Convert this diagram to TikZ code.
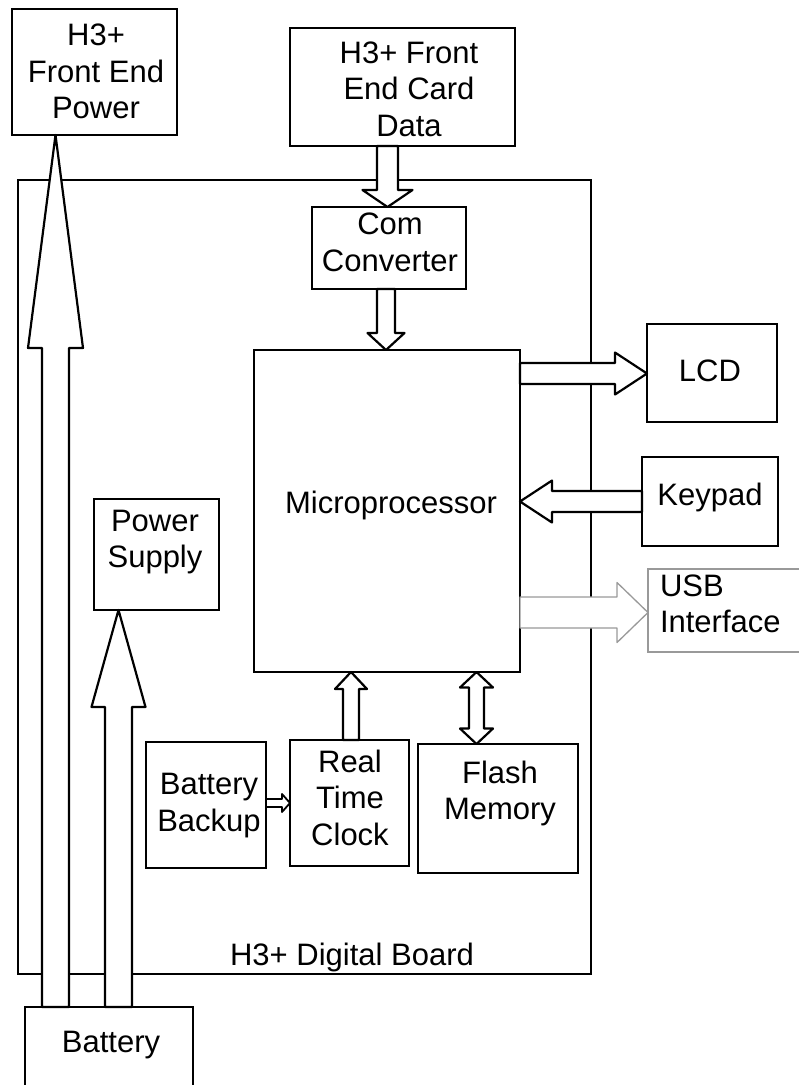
\documentclass[tikz,border=0pt]{standalone}
\usepackage{fontspec}
\setmainfont{Liberation Sans}
\usetikzlibrary{calc}
\newcommand{\dgfont}{\fontsize{31}{36.5}\selectfont}
\definecolor{usbgray}{gray}{0.6}
\tikzset{
  box/.style={draw, line width=2.4pt, inner sep=0pt, outer sep=0pt},
  txt/.style={inner sep=0pt, outer sep=0pt, align=center, font=\dgfont},
  blk/.style={draw, fill=white, line width=2.2pt, line join=round},
}
% single hollow block arrow: tail, tip, shaft half width, head half width, head length
\newcommand{\blkarrow}[6][]{%
  \coordinate (hb) at ($(#3)!#6pt!(#2)$);
  \draw[blk,#1] ($(#2)!#4pt!90:(#3)$) -- ($(hb)!#4pt!-90:(#2)$) -- ($(hb)!#5pt!-90:(#2)$) -- (#3)
     -- ($(hb)!#5pt!90:(#2)$) -- ($(hb)!#4pt!90:(#2)$) -- ($(#2)!#4pt!-90:(#3)$) -- cycle;
}
% double hollow block arrow: tip1, tip2, shaft half width, head half width, head length
\newcommand{\dblarrow}[6][]{%
  \coordinate (hba) at ($(#2)!#6pt!(#3)$);
  \coordinate (hbb) at ($(#3)!#6pt!(#2)$);
  \draw[blk,#1] ($(hba)!#4pt!90:(#3)$) -- ($(hba)!#5pt!90:(#3)$) -- (#2) -- ($(hba)!#5pt!-90:(#3)$)
     -- ($(hba)!#4pt!-90:(#3)$) -- ($(hbb)!#4pt!90:(#2)$) -- ($(hbb)!#5pt!90:(#2)$) -- (#3)
     -- ($(hbb)!#5pt!-90:(#2)$) -- ($(hbb)!#4pt!-90:(#2)$) -- cycle;
}
\begin{document}
\begin{tikzpicture}[x=1pt,y=-1pt]
\useasboundingbox (0,0) rectangle (799,1085);
\clip (0,0) rectangle (799,1085);
% boxes
\node[box, line width=2.2pt, minimum width=573pt, minimum height=794pt] (board) at (304.5,577) {};
\node[box, minimum width=165pt, minimum height=126pt] (fep) at (94.5,72) {};
\node[box, minimum width=225pt, minimum height=118pt] (fecd) at (402.5,87) {};
\node[box, minimum width=154pt, minimum height=82pt] (com) at (389,248) {};
\node[box, minimum width=266pt, minimum height=322pt] (mic) at (387,511) {};
\node[box, minimum width=130pt, minimum height=98pt] (lcd) at (712,373) {};
\node[box, minimum width=136pt, minimum height=89pt] (key) at (710,501.5) {};
\node[box, draw=usbgray, line width=1.3pt, minimum width=167pt, minimum height=83pt] (usb) at (731.5,610.5) {};
\node[box, minimum width=125pt, minimum height=111pt] (ps) at (156.5,554.5) {};
\node[box, minimum width=120pt, minimum height=126pt] (bb) at (206,805) {};
\node[box, minimum width=119pt, minimum height=126pt] (rtc) at (349.5,803) {};
\node[box, minimum width=160pt, minimum height=129pt] (fl) at (498,808.5) {};
\node[box, minimum width=168pt, minimum height=120pt] (bat) at (109,1067) {};
% connector guide lines
\coordinate (xA) at (55.5,0);
\coordinate (xB) at (118.5,0);
\coordinate (xC) at (387.5,0);
\coordinate (xD) at (386,0);
\coordinate (yE) at (0,373.5);
\coordinate (yF) at (0,501.5);
\coordinate (yG) at (0,612.5);
\coordinate (xH) at (351,0);
\coordinate (xI) at (476.5,0);
\coordinate (yJ) at (0,803);
\coordinate (a1s) at (bat.north -| xA); \coordinate (a1e) at (fep.south -| xA);
\coordinate (a2s) at (bat.north -| xB); \coordinate (a2e) at (ps.south -| xB);
\coordinate (a3s) at (fecd.south -| xC); \coordinate (a3e) at (com.north -| xC);
\coordinate (a4s) at (com.south -| xD); \coordinate (a4e) at (mic.north -| xD);
\coordinate (a5s) at (mic.east |- yE); \coordinate (a5e) at (lcd.west |- yE);
\coordinate (a6s) at (key.west |- yF); \coordinate (a6e) at (mic.east |- yF);
\coordinate (a7s) at (mic.east |- yG); \coordinate (a7e) at (usb.west |- yG);
\coordinate (a8s) at (rtc.north -| xH); \coordinate (a8e) at (mic.south -| xH);
\coordinate (a9s) at (mic.south -| xI); \coordinate (a9e) at (fl.north -| xI);
\coordinate (a10s) at (bb.east |- yJ); \coordinate (a10e) at (rtc.west |- yJ);
% arrows
\blkarrow{a1s}{a1e}{13.5}{27.5}{213}
\blkarrow{a2s}{a2e}{13.5}{27}{97}
\blkarrow{a3s}{a3e}{10.5}{25}{17}
\blkarrow{a4s}{a4e}{9}{18.5}{17}
\blkarrow{a5s}{a5e}{10.5}{21}{32}
\blkarrow{a6s}{a6e}{10.5}{21}{32}
\blkarrow[draw=usbgray, line width=1.3pt]{a7s}{a7e}{15.5}{30}{31}
\blkarrow{a8s}{a8e}{8}{16}{17}
\dblarrow{a9s}{a9e}{7.5}{16.5}{15.5}
\blkarrow[line width=1.8pt]{a10s}{a10e}{4}{9}{8}
% texts
\node[txt] (fept) at (96,71.5) {H3+\\Front End\\Power};
\node[txt] (fecdt) at (409,89) {H3+ Front\\End Card\\Data};
\node[txt] (comt) at (390,242.5) {Com\\Converter};
\node[txt] (mict) at (391,505) {Microprocessor};
\node[txt] (lcdt) at (710,371) {LCD};
\node[txt] (keyt) at (710,497) {Keypad};
\node[txt, align=left, anchor=west] (usbt) at (660,604) {USB\\Interface};
\node[txt] (pst) at (155,542) {Power\\Supply};
\node[txt] (bbt) at (209,805.5) {Battery\\Backup};
\node[txt] (rtct) at (350,797.5) {Real\\Time\\Clock};
\node[txt] (flt) at (500,793.5) {Flash\\Memory};
\node[txt] (batt) at (111,1045) {Battery};
\node[txt] (boardt) at (352,957) {H3+ Digital Board};
\end{tikzpicture}
\end{document}
